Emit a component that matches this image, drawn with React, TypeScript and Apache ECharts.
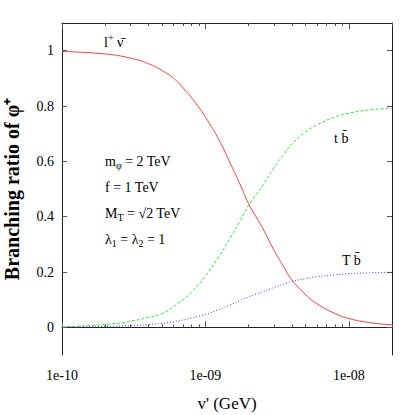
import React, { useEffect, useRef } from 'react';
import * as echarts from 'echarts';

// v' (GeV)
const vValues = [
  1e-10, 2e-10, 3e-10, 4e-10, 5e-10, 6e-10, 7e-10, 8e-10, 1e-9, 1.25e-9, 1.5e-9, 1.75e-9,
  2e-9, 2.5e-9, 3e-9, 3.5e-9, 4e-9, 5e-9, 6e-9, 8e-9, 1e-8, 1.4e-8, 2e-8,
];
// l+ nu-bar
const brLepton = [
  0.997, 0.988, 0.973, 0.953, 0.928, 0.9, 0.865, 0.83, 0.76, 0.675, 0.59, 0.515,
  0.447, 0.36, 0.28, 0.22, 0.172, 0.118, 0.085, 0.05, 0.032, 0.017, 0.009,
];
// t b-bar
const brTop = [
  0.002, 0.01, 0.022, 0.036, 0.05, 0.075, 0.1, 0.128, 0.185, 0.258, 0.326, 0.386,
  0.441, 0.512, 0.576, 0.624, 0.662, 0.706, 0.732, 0.76, 0.774, 0.786, 0.792,
];
// T b-bar
const brHeavy = [
  0.001, 0.003, 0.006, 0.01, 0.014, 0.02, 0.027, 0.034, 0.047, 0.065, 0.082, 0.097,
  0.11, 0.128, 0.144, 0.156, 0.166, 0.176, 0.183, 0.19, 0.194, 0.197, 0.199,
];

const yTickValues = [0, 0.2, 0.4, 0.6, 0.8, 1];
const yTickLabels = ['0', '0.2', '0.4', '0.6', '0.8', '1'];
const xMajorTicks = [1e-10, 1e-9, 1e-8];
const xTickLabels = ['1e-10', '1e-09', '1e-08'];
const xMinorTicks = [
  2e-10, 3e-10, 4e-10, 5e-10, 6e-10, 7e-10, 8e-10, 9e-10,
  2e-9, 3e-9, 4e-9, 5e-9, 6e-9, 7e-9, 8e-9, 9e-9, 2e-8,
];

const FONT = 'Liberation Serif';

function pairs(ys: number[]) {
  return vValues.map((v, i) => [v, ys[i]]);
}

function xLabel(v: number) {
  for (let i = 0; i < xMajorTicks.length; i++) {
    if (Math.abs(Math.log10(v) - Math.log10(xMajorTicks[i])) < 1e-6) return xTickLabels[i];
  }
  return '';
}
function yLabel(v: number) {
  for (let i = 0; i < yTickValues.length; i++) {
    if (Math.abs(v - yTickValues[i]) < 1e-6) return yTickLabels[i];
  }
  return '';
}

export default function App() {
  const ref = useRef<HTMLDivElement>(null);
  useEffect(() => {
    document.body.style.margin = '0';
    if (!ref.current) return;
    const chart = echarts.init(ref.current, null, { renderer: 'svg' });
    const frameColor = '#222';
    const tickColor = '#555';
    const baseX = {
      type: 'log' as const,
      logBase: 10,
      min: 1e-10,
      max: 2e-8,
      splitLine: { show: false },
    };
    const baseY = {
      type: 'value' as const,
      min: -0.1,
      max: 1.1,
      splitLine: { show: false },
    };
    const sub = { fontFamily: FONT, fontSize: 10, padding: [9, 0, 0, 0] };
    const sup = { fontFamily: FONT, fontSize: 10, padding: [0, 0, 9, 0] };
    const main = { fontFamily: FONT, fontSize: 14 };
    const mkRich = (x: number, y: number, t: string) => ({
      type: 'text',
      x,
      y,
      style: {
        text: t,
        fill: '#000',
        fontFamily: FONT,
        fontSize: 14,
        verticalAlign: 'middle',
        align: 'left',
        rich: { m: main, sub, sup },
      },
    });
    const seriesBase = {
      type: 'line' as const,
      showSymbol: false,
      smooth: 0.5,
    };
    chart.setOption({
      animation: false,
      backgroundColor: '#fff',
      textStyle: { fontFamily: FONT },
      grid: { left: 62, right: 23, top: 23, bottom: 60, outerBoundsMode: 'none' },
      xAxis: [
        {
          ...baseX,
          position: 'bottom',
          name: "v' (GeV)",
          nameLocation: 'middle',
          nameGap: 40,
          nameTextStyle: { fontFamily: FONT, fontSize: 17, color: '#000' },
          axisLine: { show: true, lineStyle: { color: frameColor, width: 1 } },
          axisTick: { show: true, inside: true, length: 6, customValues: xMajorTicks, lineStyle: { color: tickColor } },
          axisLabel: { show: true, customValues: xMajorTicks, formatter: xLabel, margin: 13, fontFamily: FONT, fontSize: 14, color: '#000' },
        },
        {
          ...baseX,
          position: 'bottom',
          axisLine: { show: false },
          axisTick: { show: true, inside: true, length: 3, customValues: xMinorTicks, lineStyle: { color: tickColor } },
          axisLabel: { show: false },
        },
        {
          ...baseX,
          position: 'top',
          axisLine: { show: true, lineStyle: { color: frameColor, width: 1 } },
          axisTick: { show: true, inside: true, length: 6, customValues: xMajorTicks, lineStyle: { color: tickColor } },
          axisLabel: { show: false },
        },
        {
          ...baseX,
          position: 'top',
          axisLine: { show: false },
          axisTick: { show: true, inside: true, length: 3, customValues: xMinorTicks, lineStyle: { color: tickColor } },
          axisLabel: { show: false },
        },
      ],
      yAxis: [
        {
          ...baseY,
          position: 'left',
          name: 'Branching ratio of φ⁺',
          nameLocation: 'middle',
          nameGap: 40,
          nameTextStyle: { fontFamily: FONT, fontSize: 20, fontWeight: 'bold', color: '#000' },
          axisLine: { show: true, lineStyle: { color: frameColor, width: 1 } },
          axisTick: { show: true, inside: true, length: 5, customValues: yTickValues, lineStyle: { color: tickColor } },
          axisLabel: { show: true, customValues: yTickValues, formatter: yLabel, margin: 8, fontFamily: FONT, fontSize: 14, color: '#000' },
        },
        {
          ...baseY,
          position: 'right',
          axisLine: { show: true, lineStyle: { color: frameColor, width: 1 } },
          axisTick: { show: true, inside: true, length: 5, customValues: yTickValues, lineStyle: { color: tickColor } },
          axisLabel: { show: false },
        },
      ],
      series: [
        {
          ...seriesBase,
          name: 'l+ nu',
          data: pairs(brLepton),
          lineStyle: { color: '#ff3b3b', width: 1 },
          itemStyle: { color: '#ff3b3b' },
        },
        {
          ...seriesBase,
          name: 't b',
          data: pairs(brTop),
          lineStyle: { color: '#33e633', width: 1, type: [3, 2] },
          itemStyle: { color: '#33e633' },
        },
        {
          ...seriesBase,
          name: 'T b',
          data: pairs(brHeavy),
          lineStyle: { color: '#3a3aff', width: 1, type: [1, 2] },
          itemStyle: { color: '#3a3aff' },
        },
      ],
      graphic: [
        mkRich(104, 42, '{m|l}{sup|+}{m| ν̄}'),
        mkRich(334, 138, '{m|t b̄}'),
        mkRich(342, 260, '{m|T b̄}'),
        mkRich(105, 161, '{m|m}{sub|φ}{m| = 2 TeV}'),
        mkRich(105, 187, '{m|f = 1 TeV}'),
        mkRich(105, 213, '{m|M}{sub|T}{m| = √2 TeV}'),
        mkRich(105, 239, '{m|λ}{sub|1}{m| = λ}{sub|2}{m| = 1}'),
      ],
    });
    return () => chart.dispose();
  }, []);
  return <div ref={ref} style={{ width: 415, height: 415 }} />;
}
